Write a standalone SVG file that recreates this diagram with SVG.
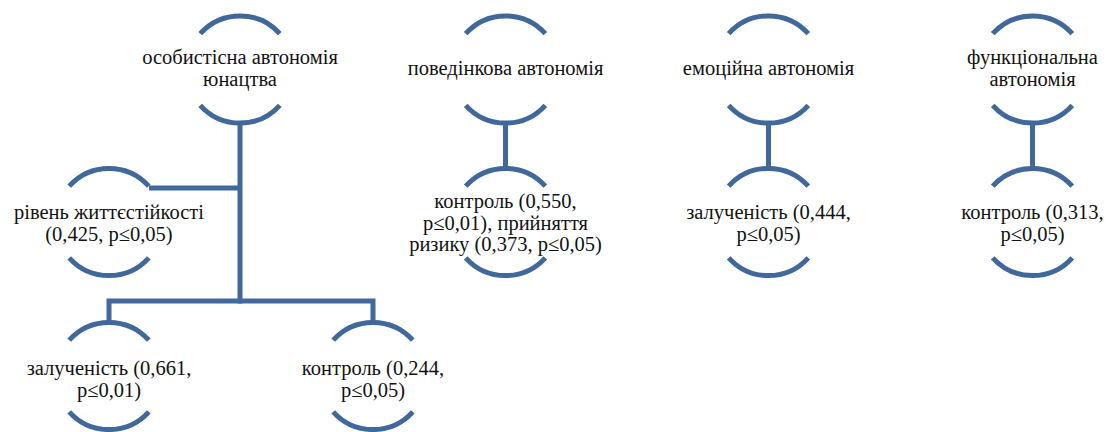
<svg xmlns="http://www.w3.org/2000/svg" width="1111" height="432" viewBox="0 0 1111 432">
<defs>
<style>
.arc{fill:none;stroke:#41689B;stroke-width:5}
.con{fill:none;stroke:#41689B;stroke-width:5;stroke-linejoin:miter}
text{font-family:Liberation Serif,Times New Roman,Tinos,Times,DejaVu Serif,serif;font-size:20.5px;fill:#111;text-anchor:middle}
</style>
</defs>
<rect width="1111" height="432" fill="#fff"/>
<g id="connectors">
<path class="con" d="M240,123 V303.5"/>
<path class="con" d="M149,188 H240"/>
<path class="con" d="M109,322.5 V301 H373 V322.5"/>
<path class="con" d="M505.5,123 V168.5"/>
<path class="con" d="M768.5,123 V168.5"/>
<path class="con" d="M1032.5,123 V168.5"/>
</g>
<g id="n-root">
<path class="arc" d="M200.2,33.7 A53.5,53.5 0 0 1 279.8,33.7 M200.2,105.3 A53.5,53.5 0 0 0 279.8,105.3"/>
<text x="240" y="64">особистісна автономія</text>
<text x="240" y="86">юнацтва</text>
</g>
<g id="n-behav">
<path class="arc" d="M465.7,33.7 A53.5,53.5 0 0 1 545.3,33.7 M465.7,105.3 A53.5,53.5 0 0 0 545.3,105.3"/>
<text x="505.5" y="75">поведінкова автономія</text>
</g>
<g id="n-emo">
<path class="arc" d="M728.7,33.7 A53.5,53.5 0 0 1 808.3,33.7 M728.7,105.3 A53.5,53.5 0 0 0 808.3,105.3"/>
<text x="768.5" y="75">емоційна автономія</text>
</g>
<g id="n-func">
<path class="arc" d="M992.7,33.7 A53.5,53.5 0 0 1 1072.3,33.7 M992.7,105.3 A53.5,53.5 0 0 0 1072.3,105.3"/>
<text x="1032.5" y="64">функціональна</text>
<text x="1032.5" y="86">автономія</text>
</g>
<g id="n-resil">
<path class="arc" d="M69.2,186.2 A53.5,53.5 0 0 1 148.8,186.2 M69.2,257.8 A53.5,53.5 0 0 0 148.8,257.8"/>
<text x="109" y="219">рівень життєстійкості</text>
<text x="109" y="241">(0,425, p≤0,05)</text>
</g>
<g id="n-behav-c">
<path class="arc" d="M465.7,186.2 A53.5,53.5 0 0 1 545.3,186.2 M465.7,257.8 A53.5,53.5 0 0 0 545.3,257.8"/>
<text x="505.5" y="208">контроль (0,550,</text>
<text x="505.5" y="230">p≤0,01), прийняття</text>
<text x="505.5" y="251">ризику (0,373, p≤0,05)</text>
</g>
<g id="n-emo-c">
<path class="arc" d="M728.7,186.2 A53.5,53.5 0 0 1 808.3,186.2 M728.7,257.8 A53.5,53.5 0 0 0 808.3,257.8"/>
<text x="768.5" y="219">залученість (0,444,</text>
<text x="768.5" y="241">p≤0,05)</text>
</g>
<g id="n-func-c">
<path class="arc" d="M992.7,186.2 A53.5,53.5 0 0 1 1072.3,186.2 M992.7,257.8 A53.5,53.5 0 0 0 1072.3,257.8"/>
<text x="1032.5" y="219">контроль (0,313,</text>
<text x="1032.5" y="241">p≤0,05)</text>
</g>
<g id="n-invol">
<path class="arc" d="M69.2,340.2 A53.5,53.5 0 0 1 148.8,340.2 M69.2,411.8 A53.5,53.5 0 0 0 148.8,411.8"/>
<text x="109" y="375">залученість (0,661,</text>
<text x="109" y="397">p≤0,01)</text>
</g>
<g id="n-ctrl">
<path class="arc" d="M333.2,340.2 A53.5,53.5 0 0 1 412.8,340.2 M333.2,411.8 A53.5,53.5 0 0 0 412.8,411.8"/>
<text x="373" y="375">контроль (0,244,</text>
<text x="373" y="397">p≤0,05)</text>
</g>
</svg>
